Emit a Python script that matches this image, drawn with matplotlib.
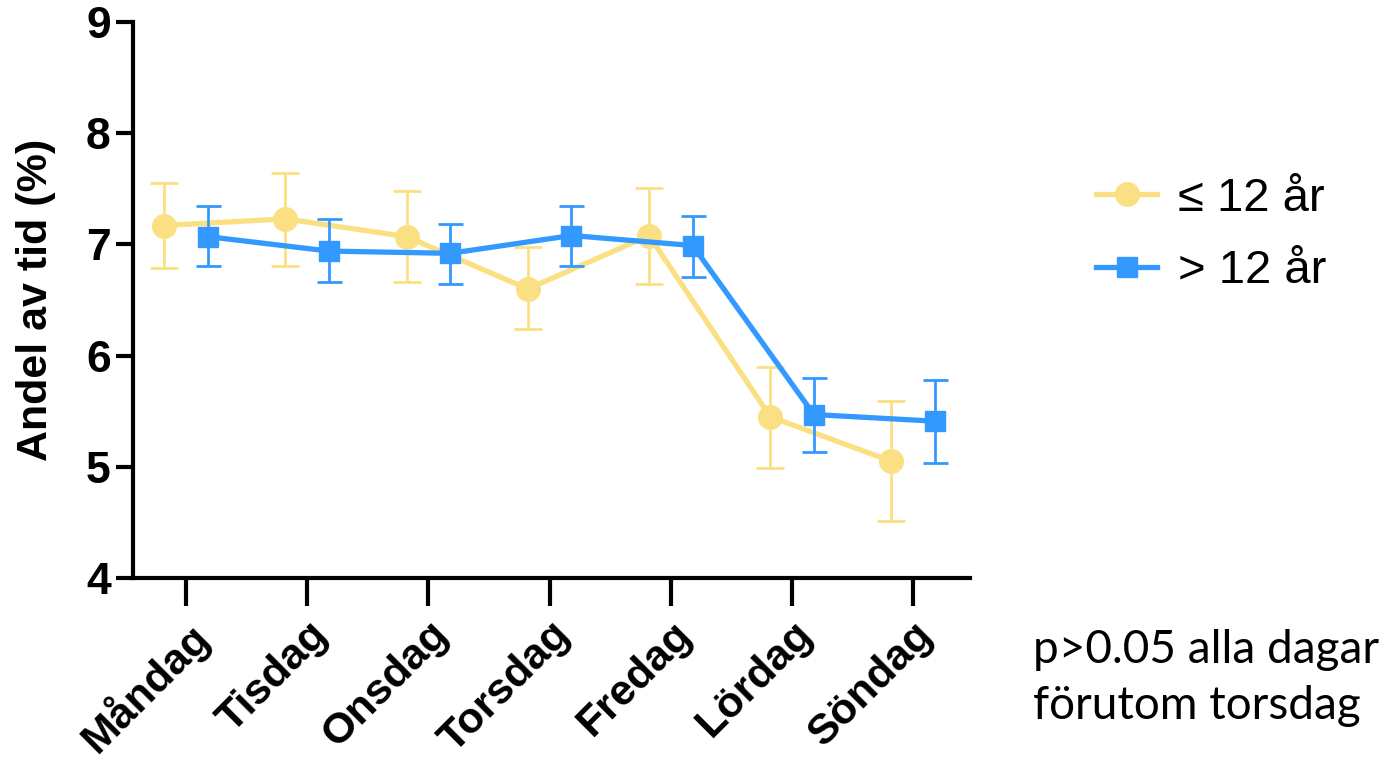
import matplotlib.pyplot as plt
from matplotlib.lines import Line2D
import numpy as np

days = ["Måndag", "Tisdag", "Onsdag", "Torsdag", "Fredag", "Lördag", "Söndag"]
young = [7.17, 7.23, 7.07, 6.60, 7.08, 5.45, 5.05]
young_hi = [7.55, 7.64, 7.48, 6.98, 7.51, 5.90, 5.59]
young_lo = [6.79, 6.81, 6.66, 6.24, 6.64, 4.99, 4.51]
old = [7.07, 6.94, 6.92, 7.08, 6.99, 5.47, 5.41]
old_hi = [7.35, 7.23, 7.18, 7.35, 7.26, 5.80, 5.78]
old_lo = [6.81, 6.66, 6.64, 6.81, 6.71, 5.13, 5.03]

yellow = "#FBE083"
blue = "#3399FF"

plt.rcParams['font.family'] = ['Liberation Sans', 'DejaVu Sans']

fig = plt.figure(figsize=(13.86, 7.6), dpi=100)
ax = fig.add_axes([0.096, 0.2395, 0.604, 0.7315])

x = np.arange(len(days))
off = 0.18
y = np.array(young)
o = np.array(old)
ax.errorbar(x - off, y, yerr=[y - np.array(young_lo), np.array(young_hi) - y],
            color=yellow, marker='o', markersize=17, linewidth=3.8,
            elinewidth=2, capsize=10, capthick=2, zorder=3)
ax.errorbar(x + off, o, yerr=[o - np.array(old_lo), np.array(old_hi) - o],
            color=blue, marker='s', markersize=15, linewidth=3.8,
            elinewidth=2, capsize=9, capthick=2, zorder=4)

ax.set_xlim(-0.437, 6.47)
ax.set_ylim(4, 9)
ax.set_xticks(x)
ax.set_xticklabels(days, rotation=45, ha='right', rotation_mode='anchor',
                   fontsize=31, fontweight='bold')
ax.set_yticks([4, 5, 6, 7, 8, 9])
ax.set_yticklabels(['4', '5', '6', '7', '8', '9'], fontsize=32, fontweight='bold')
ax.set_ylabel("Andel av tid (%)", fontsize=31, fontweight='bold', labelpad=22)
ax.spines['top'].set_visible(False)
ax.spines['right'].set_visible(False)
ax.spines['left'].set_linewidth(3)
ax.spines['bottom'].set_linewidth(3)
ax.tick_params(axis='x', length=20, width=3, pad=6)
ax.tick_params(axis='y', length=12, width=3, pad=4)

handles = [Line2D([], [], color=yellow, marker='o', markersize=17, linewidth=3.8),
           Line2D([], [], color=blue, marker='s', markersize=15, linewidth=3.8)]
fig.legend(handles, ["≤ 12 år", "> 12 år"], loc='upper left',
           bbox_to_anchor=(0.76, 0.823), frameon=False,
           fontsize=34, handlelength=1.3, handletextpad=0.45, labelspacing=0.6)

fig.text(0.745, 0.108, "p>0.05 alla dagar\nförutom torsdag", fontsize=33,
         family=['Lato', 'DejaVu Sans'], va='center', linespacing=1.4)

fig.savefig("out.png", dpi=100)
